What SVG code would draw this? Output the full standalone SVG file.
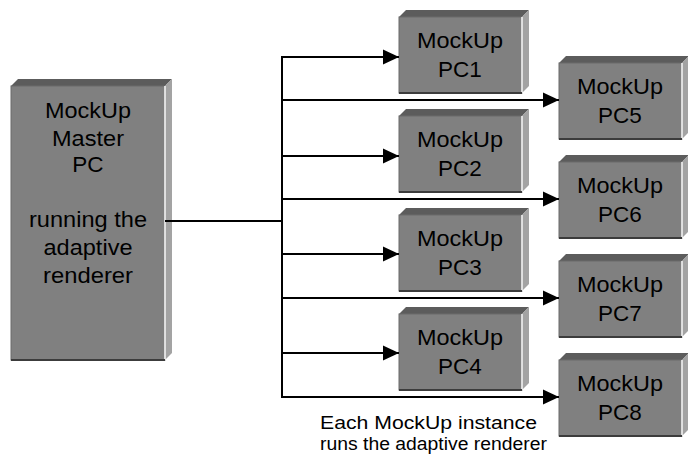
<svg xmlns="http://www.w3.org/2000/svg" width="688" height="458" viewBox="0 0 688 458">
<defs>
<style>
.front{fill:#808080;stroke:#6a6a6a;stroke-width:1}
.top{fill:#5c5c5c}
.side{fill:#a3a3a3}
.hl{stroke:#ffffff;stroke-width:1.5}
.bot{stroke:#3c3c3c;stroke-width:2}
.t{font-family:"Liberation Sans",Arial,sans-serif;font-size:22.5px;fill:#000;text-anchor:middle}
.cap{font-family:"Liberation Sans",Arial,sans-serif;font-size:17.5px;fill:#000}
.ln{stroke:#000;stroke-width:2;fill:none}
</style>
<marker id="ah" markerUnits="userSpaceOnUse" markerWidth="16" markerHeight="16" refX="16" refY="8" orient="auto">
<path d="M0,0.5 L16,8 L0,15.5 Z" fill="#000"/>
</marker>
<g id="box">
<polygon class="top" points="0,0 7,-7 130,-7 123,0"/>
<polygon class="side" points="123,0 130,-7 130,69 123,76"/>
<rect class="front" x="0" y="0" width="123" height="76"/>
<line class="hl" x1="123" y1="0" x2="123" y2="76"/>
<line class="bot" x1="0" y1="76" x2="123" y2="76"/>
</g>
</defs>

<g id="master">
<polygon class="top" points="11,86 18,79 172,79 165,86"/>
<polygon class="side" points="165,86 172,79 172,353 165,360"/>
<rect class="front" x="11" y="86" width="154" height="274"/>
<line class="hl" x1="165" y1="86" x2="165" y2="360"/>
<line class="bot" x1="11" y1="360" x2="165" y2="360"/>
<text class="t" x="88" y="118" textLength="86" lengthAdjust="spacingAndGlyphs">MockUp</text>
<text class="t" x="88" y="146" textLength="72" lengthAdjust="spacingAndGlyphs">Master</text>
<text class="t" x="88" y="172">PC</text>
<text class="t" x="88" y="227" textLength="118" lengthAdjust="spacingAndGlyphs">running the</text>
<text class="t" x="88" y="255" textLength="89" lengthAdjust="spacingAndGlyphs">adaptive</text>
<text class="t" x="88" y="283" textLength="90" lengthAdjust="spacingAndGlyphs">renderer</text>
</g>

<g id="pc1"><use href="#box" x="399" y="17"/><text class="t" x="460" y="48" textLength="86" lengthAdjust="spacingAndGlyphs">MockUp</text><text class="t" x="460" y="77">PC1</text></g>
<g id="pc2"><use href="#box" x="399" y="116"/><text class="t" x="460" y="147" textLength="86" lengthAdjust="spacingAndGlyphs">MockUp</text><text class="t" x="460" y="176">PC2</text></g>
<g id="pc3"><use href="#box" x="399" y="215"/><text class="t" x="460" y="246" textLength="86" lengthAdjust="spacingAndGlyphs">MockUp</text><text class="t" x="460" y="275">PC3</text></g>
<g id="pc4"><use href="#box" x="399" y="314"/><text class="t" x="460" y="345" textLength="86" lengthAdjust="spacingAndGlyphs">MockUp</text><text class="t" x="460" y="374">PC4</text></g>
<g id="pc5"><use href="#box" x="559" y="63"/><text class="t" x="620" y="94" textLength="86" lengthAdjust="spacingAndGlyphs">MockUp</text><text class="t" x="620" y="123">PC5</text></g>
<g id="pc6"><use href="#box" x="559" y="162"/><text class="t" x="620" y="193" textLength="86" lengthAdjust="spacingAndGlyphs">MockUp</text><text class="t" x="620" y="222">PC6</text></g>
<g id="pc7"><use href="#box" x="559" y="261"/><text class="t" x="620" y="292" textLength="86" lengthAdjust="spacingAndGlyphs">MockUp</text><text class="t" x="620" y="321">PC7</text></g>
<g id="pc8"><use href="#box" x="559" y="360"/><text class="t" x="620" y="391" textLength="86" lengthAdjust="spacingAndGlyphs">MockUp</text><text class="t" x="620" y="420">PC8</text></g>

<g id="connectors">
<line class="ln" x1="165" y1="221" x2="282" y2="221"/>
<line class="ln" x1="282" y1="56" x2="282" y2="398"/>
<line class="ln" x1="281" y1="57" x2="399" y2="57" marker-end="url(#ah)"/>
<line class="ln" x1="281" y1="156" x2="399" y2="156" marker-end="url(#ah)"/>
<line class="ln" x1="281" y1="254" x2="399" y2="254" marker-end="url(#ah)"/>
<line class="ln" x1="281" y1="353" x2="399" y2="353" marker-end="url(#ah)"/>
<line class="ln" x1="281" y1="100" x2="559" y2="100" marker-end="url(#ah)"/>
<line class="ln" x1="281" y1="199" x2="559" y2="199" marker-end="url(#ah)"/>
<line class="ln" x1="281" y1="298" x2="559" y2="298" marker-end="url(#ah)"/>
<line class="ln" x1="281" y1="397" x2="559" y2="397" marker-end="url(#ah)"/>
</g>

<g id="caption">
<text class="cap" x="320" y="429" textLength="217" lengthAdjust="spacingAndGlyphs">Each MockUp instance</text>
<text class="cap" x="320" y="450" textLength="227" lengthAdjust="spacingAndGlyphs">runs the adaptive renderer</text>
</g>
</svg>
